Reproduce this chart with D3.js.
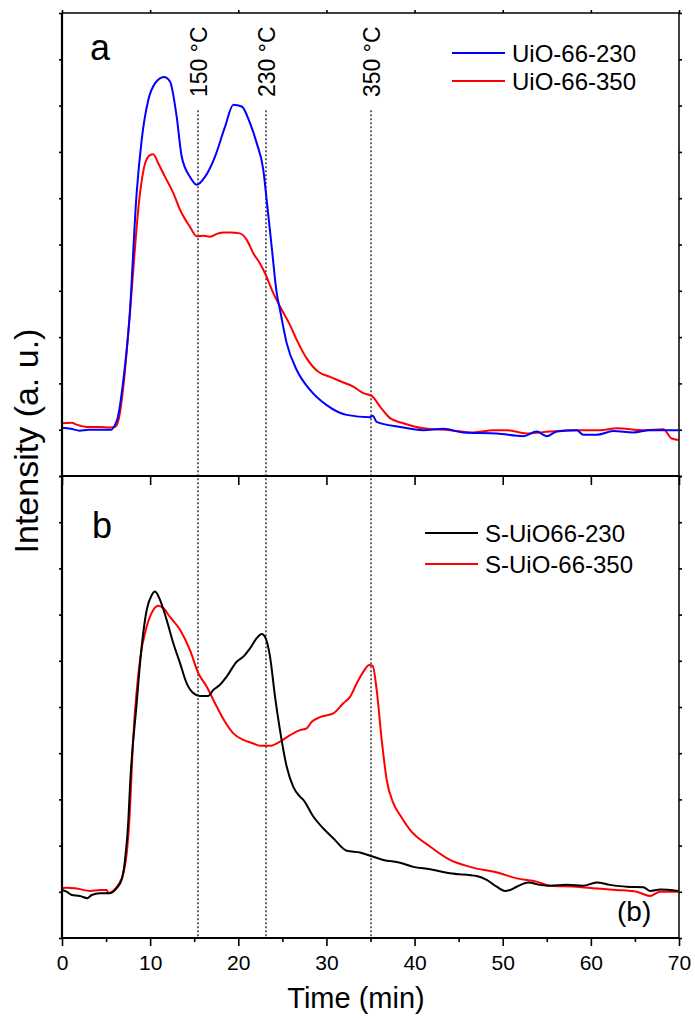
<!DOCTYPE html>
<html>
<head>
<meta charset="utf-8">
<script src="https://cdn.jsdelivr.net/npm/d3@7"></script>
<style>
  html, body { margin: 0; padding: 0; background: #fff; }
  svg { display: block; font-family: "Liberation Sans", Arial, sans-serif; }
</style>
</head>
<body>
<svg id="chart" width="695" height="1018"></svg>
<script>
// Time axis (min)
const timeTicks = [0, 10, 20, 30, 40, 50, 60, 70];
const timeMinorTicks = [5, 15, 25, 35, 45, 55, 65];
const intensityTicks = [0, 1, 2, 3, 4, 5, 6, 7, 8, 9, 10];

// Panel a: [time (min), intensity (a.u.)]
const uio66_230 = [
  [0,1.04],[1,1.02],[2,0.98],[3,1.0],[4,1.0],[5,1.0],[5.6,1.0],[6.0,1.1],[6.3,1.24],
  [6.96,2.07],[7.64,3.37],[8.47,6.11],[9.04,7.26],[9.79,8.12],[10.55,8.48],[11.57,8.62],
  [12.25,8.52],[13.01,7.76],[13.58,6.90],[14.52,6.46],[15.28,6.29],[16.22,6.46],[17.36,6.90],
  [18.49,7.54],[19.44,8.02],[20.39,7.98],[21.33,7.62],[22.09,7.19],[22.84,6.61],[23.22,5.96],
  [23.79,4.95],[24.36,3.95],[24.73,3.59],[25.49,2.87],[26.63,2.29],[28.14,1.86],[30.03,1.53],
  [32.3,1.32],[34.94,1.27],[35.25,1.30],[35.7,1.17],[38.35,1.06],[40.99,0.99],[43.26,1.02],
  [45.53,0.94],[49.32,0.92],[52.34,0.86],[53.86,0.96],[54.99,0.86],[56.13,0.96],[58.4,0.99],
  [59.14,0.89],[60.66,0.89],[62.55,0.97],[64.82,0.94],[66.71,0.99],[69.92,0.99]
];
const uio66_350 = [
  [0,1.14],[1.1,1.15],[1.66,1.11],[2.8,1.06],[4.3,1.06],[5.45,1.05],[6.0,1.06],[6.4,1.2],
  [7.0,2.0],[7.64,3.37],[8.85,6.11],[9.42,6.75],[9.98,6.93],[10.36,6.95],[10.93,6.75],
  [11.69,6.46],[12.63,6.11],[13.39,5.75],[14.52,5.38],[15.28,5.18],[16.03,5.19],[16.79,5.17],
  [17.73,5.24],[18.3,5.26],[19.06,5.26],[20.19,5.24],[20.96,5.10],[21.7,4.81],[22.46,4.59],
  [23.03,4.38],[23.97,3.95],[24.73,3.66],[25.87,3.26],[26.63,2.94],[27.76,2.54],[29.08,2.25],
  [30.41,2.14],[31.92,2.02],[33.05,1.93],[34.18,1.79],[35.14,1.73],[36.08,1.50],[37.21,1.25],
  [38.72,1.14],[40.99,1.03],[44.02,0.99],[46.66,0.94],[48.93,0.99],[50.45,0.99],[52.72,0.92],
  [55.37,0.96],[58.4,0.99],[61.04,0.99],[62.93,1.03],[65.95,0.99],[68.22,1.01],[69.17,0.81],
  [69.92,0.78]
];

// Panel b
const s_uio66_230 = [
  [0,1.04],[0.57,1.0],[1.1,0.93],[2.04,0.91],[2.87,0.86],[3.37,0.93],[4.31,0.97],[5.07,0.97],
  [5.45,0.97],[6.2,1.08],[6.77,1.26],[7.15,1.69],[7.53,2.55],[7.71,3.27],[8.47,5.08],[9.04,6.31],
  [9.61,7.10],[10.17,7.42],[10.55,7.50],[11.12,7.32],[11.88,6.88],[12.63,6.38],[13.39,5.95],
  [14.15,5.51],[14.9,5.30],[15.66,5.24],[16.6,5.24],[17.17,5.37],[17.93,5.48],[18.69,5.66],
  [19.82,5.98],[20.57,6.09],[21.33,6.27],[22.09,6.49],[22.66,6.58],[23.03,6.52],[23.6,6.09],
  [24.17,5.22],[24.73,4.50],[25.49,3.71],[26.24,3.27],[27.0,3.06],[27.38,2.99],[28.51,2.63],
  [29.65,2.37],[30.78,2.16],[32.3,1.89],[33.81,1.85],[35.14,1.77],[36.45,1.69],[38.35,1.63],
  [39.86,1.54],[41.75,1.49],[44.02,1.40],[47.05,1.34],[48.18,1.26],[49.32,1.11],[50.26,1.02],
  [50.83,1.04],[51.59,1.11],[52.9,1.20],[54.23,1.15],[55.37,1.13],[57.26,1.15],[59.14,1.13],
  [60.66,1.20],[62.17,1.15],[64.07,1.11],[65.95,1.10],[66.71,1.02],[67.85,1.05],[69.92,1.02]
];
const s_uio66_350 = [
  [0,1.08],[0.57,1.09],[1.66,1.07],[3.18,1.02],[4.31,1.04],[5.07,1.04],[5.26,0.97],[5.82,1.02],
  [6.39,1.15],[6.96,1.40],[7.34,1.83],[7.64,2.55],[8.09,4.36],[8.85,6.02],[9.61,6.74],
  [10.36,7.10],[10.93,7.19],[11.49,7.14],[12.25,6.95],[13.39,6.67],[14.52,6.23],[15.47,5.73],
  [16.42,5.44],[17.55,5.01],[18.49,4.68],[19.44,4.43],[20.57,4.29],[21.7,4.21],[22.46,4.16],
  [23.6,4.16],[24.73,4.25],[25.87,4.39],[27.0,4.50],[27.76,4.54],[28.33,4.68],[29.27,4.78],
  [30.78,4.86],[31.92,5.08],[32.68,5.22],[33.43,5.51],[34.18,5.76],[34.87,5.91],[35.25,5.89],
  [35.7,5.37],[36.27,4.29],[36.84,3.42],[37.59,2.92],[38.35,2.66],[39.48,2.34],[41.75,1.98],
  [44.02,1.69],[46.29,1.54],[49.69,1.40],[51.59,1.29],[53.86,1.22],[55.37,1.13],[58.4,1.11],
  [60.66,1.07],[62.93,1.04],[65.2,1.00],[66.71,0.91],[67.85,1.00],[69.92,1.00]
];

// Desorption temperature markers (time at which each temperature is reached)
const markerLabels = ["150 °C", "230 °C", "350 °C"];
const markerTimes = [15.43, 23.14, 35.06];

const legendA = ["UiO-66-230", "UiO-66-350"];
const legendB = ["S-UiO66-230", "S-UiO-66-350"];

const svg = d3.select("#chart");
const plotLeft = 62, plotRight = 679, plotTop = 13, plotMid = 476, plotBottom = 938;

const x = d3.scaleLinear().domain([0, 70]).range([plotLeft, plotRight]);
const yA = d3.scaleLinear().domain([0, 10]).range([plotMid, plotTop]);
const yB = d3.scaleLinear().domain([0, 10]).range([plotBottom, plotMid]);

function styleAxis(g) {
  g.select(".domain").remove();
  g.selectAll(".tick line").attr("stroke", "#000").attr("stroke-width", 1.6);
  g.selectAll(".tick text").attr("fill", "#000");
}

// Intensity ticks, left and right, for both panels
[yA, yB].forEach(sc => {
  svg.append("g").attr("transform", `translate(${plotLeft},0)`)
    .call(d3.axisLeft(sc).tickValues(intensityTicks).tickSize(3).tickFormat(""))
    .call(styleAxis);
  svg.append("g").attr("transform", `translate(${plotRight},0)`)
    .call(d3.axisRight(sc).tickValues(intensityTicks).tickSize(3).tickFormat(""))
    .call(styleAxis);
});

// Top ticks
svg.append("g").attr("transform", `translate(0,${plotTop})`)
  .call(d3.axisTop(x).tickValues(timeTicks).tickSize(3).tickFormat(""))
  .call(styleAxis);

// Ticks between the panels
svg.append("g").attr("transform", `translate(0,${plotMid})`)
  .call(d3.axisBottom(x).tickValues(timeTicks).tickSize(9).tickFormat(""))
  .call(styleAxis);

// Bottom time axis
svg.append("g").attr("transform", `translate(0,${plotBottom})`)
  .call(d3.axisBottom(x).tickValues(timeMinorTicks).tickSize(4).tickFormat(""))
  .call(styleAxis);
svg.append("g").attr("transform", `translate(0,${plotBottom})`)
  .call(d3.axisBottom(x).tickValues(timeTicks).tickSize(8).tickPadding(9))
  .call(styleAxis)
  .call(g => g.selectAll(".tick text")
    .attr("font-size", 21)
    .attr("font-family", "Liberation Sans, Arial, sans-serif"));

// Temperature marker lines across both panels
svg.append("g").selectAll("line")
  .data(markerTimes)
  .join("line")
  .attr("x1", d => x(d)).attr("x2", d => x(d))
  .attr("y1", yA(7.9)).attr("y2", plotBottom)
  .attr("stroke", "#000")
  .attr("stroke-width", 1.2)
  .attr("stroke-dasharray", "2,2");

svg.append("g").selectAll("text")
  .data(markerLabels)
  .join("text")
  .attr("transform", (d, i) => `translate(${x(markerTimes[i]) + 9},97) rotate(-90)`)
  .attr("font-size", 23)
  .text(d => d);

// Curves
const lineA = d3.line().curve(d3.curveMonotoneX).x(d => x(d[0])).y(d => yA(d[1]));
const lineB = d3.line().curve(d3.curveMonotoneX).x(d => x(d[0])).y(d => yB(d[1]));
const curves = [
  { data: uio66_350, gen: lineA, color: "#ff0000" },
  { data: uio66_230, gen: lineA, color: "#0000ff" },
  { data: s_uio66_350, gen: lineB, color: "#ff0000" },
  { data: s_uio66_230, gen: lineB, color: "#000000" }
];
svg.append("g").selectAll("path")
  .data(curves)
  .join("path")
  .attr("d", d => d.gen(d.data))
  .attr("fill", "none")
  .attr("stroke", d => d.color)
  .attr("stroke-width", 2)
  .attr("stroke-linejoin", "round");

// Frame
const frame = svg.append("g").attr("stroke", "#000").attr("fill", "none");
frame.append("line").attr("x1", plotLeft).attr("x2", plotRight).attr("y1", plotTop).attr("y2", plotTop).attr("stroke-width", 1.5);
frame.append("line").attr("x1", plotRight).attr("x2", plotRight).attr("y1", plotTop).attr("y2", plotBottom).attr("stroke-width", 1.5);
frame.append("line").attr("x1", plotLeft).attr("x2", plotRight).attr("y1", plotMid).attr("y2", plotMid).attr("stroke-width", 2.2);
frame.append("line").attr("x1", plotLeft).attr("x2", plotRight).attr("y1", plotBottom).attr("y2", plotBottom).attr("stroke-width", 2.2);
frame.append("line").attr("x1", plotLeft).attr("x2", plotLeft).attr("y1", plotTop).attr("y2", plotBottom).attr("stroke-width", 2.2);

// Legends
function legend(names, colors, lx, ly, dy) {
  const g = svg.append("g");
  names.forEach((n, i) => {
    g.append("line")
      .attr("x1", lx).attr("x2", lx + 53)
      .attr("y1", ly + i * dy).attr("y2", ly + i * dy)
      .attr("stroke", colors[i]).attr("stroke-width", 2);
    g.append("text")
      .attr("x", lx + 60).attr("y", ly + i * dy + 9)
      .attr("font-size", 24)
      .text(n);
  });
}
legend(legendA, ["#0000ff", "#ff0000"], 452, 53, 28);
legend(legendB, ["#000000", "#ff0000"], 425, 533, 31);

// Panel letters
svg.append("text").attr("x", 90).attr("y", 60).attr("font-size", 36).text("a");
svg.append("text").attr("x", 92).attr("y", 538).attr("font-size", 36).text("b");
svg.append("text").attr("x", 617).attr("y", 921).attr("font-size", 28).text("(b)");

// Axis titles
svg.append("text")
  .attr("x", 356).attr("y", 1008)
  .attr("text-anchor", "middle")
  .attr("font-size", 29)
  .text("Time (min)");
svg.append("text")
  .attr("transform", "translate(38,441) rotate(-90)")
  .attr("text-anchor", "middle")
  .attr("font-size", 34)
  .text("Intensity (a. u.)");
</script>
</body>
</html>
